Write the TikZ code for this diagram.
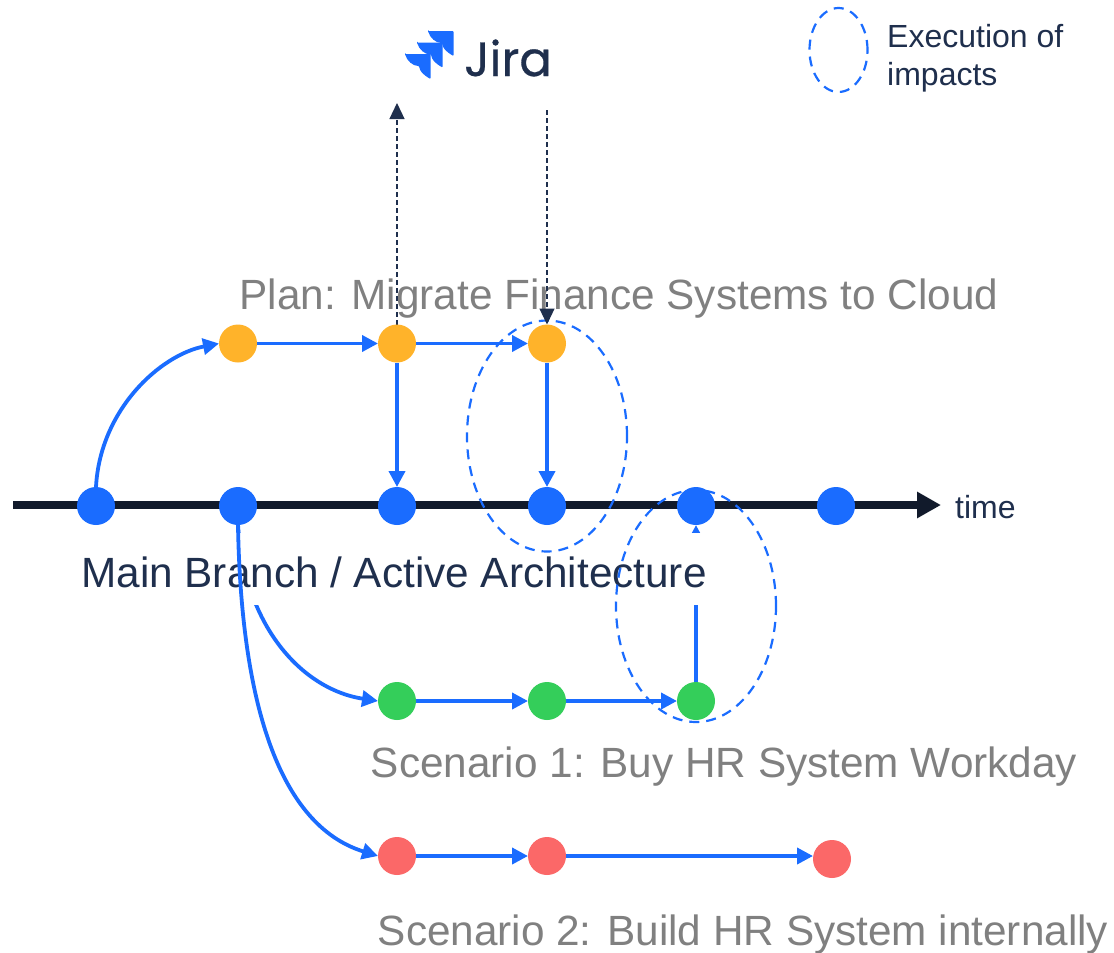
\documentclass[tikz,border=0pt]{standalone}
\usepackage{fontspec}
\setmainfont{Liberation Sans}
\newfontfamily\jirafont[FakeBold=0.6]{Poppins}
\usetikzlibrary{arrows.meta,shapes.geometric}
\definecolor{bluec}{HTML}{1A6CFF}
\definecolor{orangec}{HTML}{FFB32A}
\definecolor{greenc}{HTML}{34CE5A}
\definecolor{redc}{HTML}{FB6868}
\definecolor{greyc}{HTML}{808080}
\definecolor{navyc}{HTML}{1F2F4D}
\definecolor{inkc}{HTML}{111A2B}
\pgfdeclarelayer{la}\pgfdeclarelayer{lb}\pgfdeclarelayer{lc}\pgfdeclarelayer{ld}
\pgfsetlayers{la,lb,lc,ld,main}
\tikzset{
  dotnode/.style={circle,minimum size=38pt,inner sep=0pt,outer sep=0pt},
  flow/.style={draw=bluec,line width=3.8pt,-{Triangle[length=16pt,width=16pt]}},
  link/.style={draw=navyc,line width=1.2pt,dash pattern=on 5pt off 3pt,-{Triangle[length=16pt,width=15pt]}},
  impact/.style={ellipse,draw=bluec,line width=2.2pt,dash pattern=on 10pt off 7pt,inner sep=0pt,outer sep=0pt},
  greytext/.style={text=greyc,font=\fontsize{42.3}{50}\selectfont,anchor=base,inner sep=0pt},
  navytext/.style={text=navyc,font=\fontsize{32}{38}\selectfont,anchor=base west,inner sep=0pt},
}
\begin{document}
\begin{tikzpicture}[x=1pt,y=-1pt]
\useasboundingbox (0,0) rectangle (1114,953);

% nodes
\node[dotnode,fill=orangec] (o1) at (238,343.5) {};
\node[dotnode,fill=orangec] (o2) at (397,343.5) {};
\node[dotnode,fill=orangec] (o3) at (547,343.5) {};
\node[dotnode,fill=bluec] (b1) at (96,506) {};
\node[dotnode,fill=bluec] (b2) at (238,506) {};
\node[dotnode,fill=bluec] (b3) at (397,506) {};
\node[dotnode,fill=bluec] (b4) at (547,506) {};
\node[dotnode,fill=bluec] (b5) at (696,506) {};
\node[dotnode,fill=bluec] (b6) at (836,506) {};
\node[dotnode,fill=greenc] (g1) at (397,701) {};
\node[dotnode,fill=greenc] (g2) at (547,701) {};
\node[dotnode,fill=greenc] (g3) at (696,701) {};
\node[dotnode,fill=redc] (r1) at (397,856) {};
\node[dotnode,fill=redc] (r2) at (547,856) {};
\node[dotnode,fill=redc] (r3) at (832,859) {};

\coordinate (ls) at (13,505);
\coordinate (le) at (941,505);
\coordinate (jup) at (397,103);
\coordinate (jdown) at (547,110);

\begin{pgfonlayer}{la}
  \fill[white] (0,0) rectangle (1114,953);
  \draw[inkc,line width=8pt,-{Triangle[length=24pt,width=25pt]}] (ls) -- (le);
  \draw[flow] (b2.south) .. controls (245,630) and (305,690) .. (g1.west);
  \draw[flow] (g3.north) -- (b5.south);
\end{pgfonlayer}

\begin{pgfonlayer}{lb}
  \node[fill=white,text=navyc,font=\fontsize{42.3}{50}\selectfont,anchor=base,inner sep=0pt,
        text height=54pt,text depth=18pt,minimum width=660pt] (mainlabel) at (394,587) {Main Branch / Active Architecture};
\end{pgfonlayer}

\begin{pgfonlayer}{lc}
  \node[impact,minimum width=160pt,minimum height=231pt] (e1) at (547,436) {};
  \node[impact,minimum width=160pt,minimum height=232pt] (e2) at (696,606) {};
  \node[impact,minimum width=58pt,minimum height=84pt] (e3) at (838.5,50) {};
\end{pgfonlayer}

\begin{pgfonlayer}{ld}
  \draw[flow] (b1.north) .. controls (100,410) and (160,355) .. (o1.west);
  \draw[flow] (b2.south) .. controls (241,700) and (278,825) .. (r1.west);
  \draw[flow] (o1) -- (o2);
  \draw[flow] (o2) -- (o3);
  \draw[flow] (o2) -- (b3);
  \draw[flow] (o3) -- (b4);
  \draw[flow] (g1) -- (g2);
  \draw[flow] (g2) -- (g3);
  \draw[flow] (r1) -- (r2);
  \draw[flow] (r2) -- (r3.west |- r2);
  \node[greytext] (plan) at (619,309) {Plan: Migrate Finance Systems to Cloud};
  \node[greytext] (s1) at (724,777) {Scenario 1: Buy HR System Workday};
  \node[greytext] (s2) at (743,945) {Scenario 2: Build HR System internally};
  \draw[link] (o2.north) -- (jup);
  \draw[link] (jdown) -- (o3.north);
\end{pgfonlayer}

\node[navytext] (l1) at (887,47) {Execution of};
\node[navytext] (l2) at (887,85) {impacts};
\node[navytext] (time) at (955,518) {time};

% Jira logo
\foreach \x/\y in {428/31,417/42.5,405/54}{
  \fill[bluec,rounded corners=0.8pt] (\x,\y) -- (\x+25.5,\y) -- (\x+25.5,\y+25)
    .. controls (\x+17,\y+20) and (\x+15,\y+17) .. (\x+14,\y+12)
    .. controls (\x+8,\y+12) and (\x+2,\y+7) .. cycle;
}
\node[text=navyc,font=\jirafont\fontsize{48}{52}\selectfont,anchor=base west,inner sep=0pt] (jira) at (464,76) {Jira};
\end{tikzpicture}
\end{document}
